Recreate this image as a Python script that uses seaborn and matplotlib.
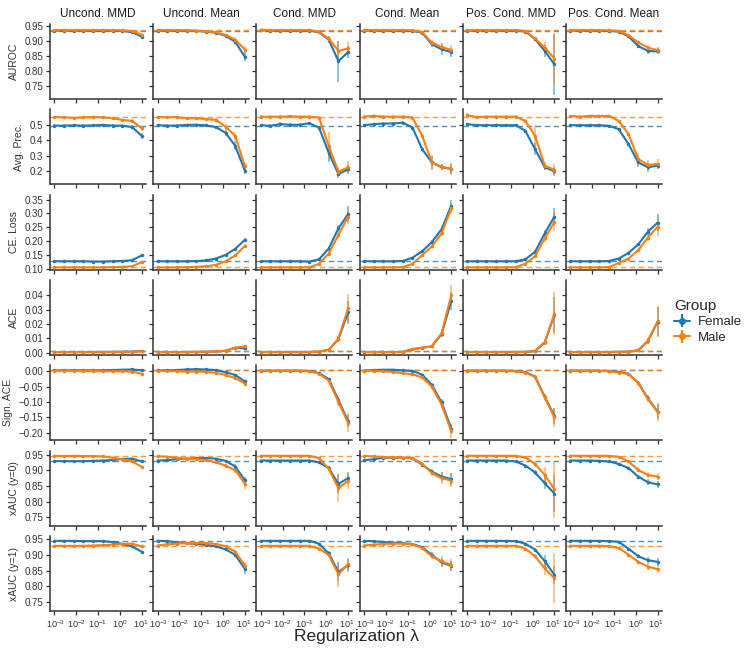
import numpy as np
import pandas as pd
import seaborn as sns
import matplotlib.pyplot as plt
from matplotlib.ticker import FuncFormatter, FixedLocator, NullLocator
from matplotlib.transforms import ScaledTranslation

LAMBDAS = [1e-3, 2.78e-3, 7.74e-3, 2.15e-2, 5.99e-2, 0.167, 0.464, 1.29, 3.59, 10.0]
METHODS = ["Uncond. MMD", "Uncond. Mean", "Cond. MMD", "Cond. Mean",
           "Pos. Cond. MMD", "Pos. Cond. Mean"]
METRICS = ["AUROC", "Avg. Prec.", "CE. Loss", "ACE", "Sign. ACE",
           "xAUC (y=0)", "xAUC (y=1)"]
GROUPS = ["Female", "Male"]
COLORS = {"Female": "#1f77b4", "Male": "#ff7f0e"}

# baseline (unregularized) values per metric: female, male
BASE_FEMALE = [0.935, 0.495, 0.127, 0.001, 0.003, 0.930, 0.945]
BASE_MALE = [0.937, 0.553, 0.105, 0.001, 0.003, 0.946, 0.929]

auroc_female = [
    [0.935, 0.935, 0.935, 0.935, 0.935, 0.935, 0.935, 0.934, 0.930, 0.915],
    [0.935, 0.935, 0.935, 0.935, 0.934, 0.932, 0.928, 0.918, 0.898, 0.848],
    [0.936, 0.935, 0.935, 0.935, 0.935, 0.935, 0.930, 0.905, 0.834, 0.864],
    [0.935, 0.935, 0.935, 0.935, 0.935, 0.934, 0.928, 0.890, 0.873, 0.864],
    [0.935, 0.935, 0.935, 0.935, 0.935, 0.935, 0.932, 0.907, 0.868, 0.823],
    [0.935, 0.935, 0.935, 0.935, 0.934, 0.932, 0.916, 0.884, 0.868, 0.866],
]
auroc_male = [
    [0.937, 0.937, 0.937, 0.937, 0.937, 0.937, 0.937, 0.936, 0.934, 0.921],
    [0.937, 0.937, 0.937, 0.936, 0.935, 0.933, 0.929, 0.921, 0.905, 0.872],
    [0.938, 0.937, 0.937, 0.937, 0.937, 0.937, 0.932, 0.908, 0.868, 0.876],
    [0.937, 0.937, 0.937, 0.937, 0.937, 0.936, 0.930, 0.895, 0.881, 0.871],
    [0.937, 0.937, 0.937, 0.937, 0.937, 0.937, 0.934, 0.909, 0.879, 0.842],
    [0.937, 0.937, 0.937, 0.937, 0.936, 0.934, 0.920, 0.896, 0.879, 0.870],
]
auroc_female_err = [
    [0.002, 0.002, 0.002, 0.002, 0.002, 0.002, 0.002, 0.002, 0.003, 0.005],
    [0.002, 0.002, 0.002, 0.002, 0.002, 0.002, 0.003, 0.004, 0.008, 0.015],
    [0.002, 0.002, 0.002, 0.002, 0.002, 0.002, 0.004, 0.012, 0.068, 0.020],
    [0.002, 0.002, 0.002, 0.002, 0.002, 0.002, 0.004, 0.010, 0.018, 0.015],
    [0.002, 0.002, 0.002, 0.002, 0.002, 0.002, 0.003, 0.006, 0.020, 0.100],
    [0.002, 0.002, 0.002, 0.002, 0.002, 0.002, 0.004, 0.008, 0.010, 0.010],
]
auroc_male_err = [
    [0.002, 0.002, 0.002, 0.002, 0.002, 0.002, 0.002, 0.002, 0.003, 0.005],
    [0.002, 0.002, 0.002, 0.002, 0.002, 0.002, 0.003, 0.004, 0.008, 0.012],
    [0.003, 0.002, 0.002, 0.002, 0.002, 0.002, 0.004, 0.010, 0.033, 0.023],
    [0.002, 0.002, 0.002, 0.002, 0.002, 0.002, 0.004, 0.008, 0.012, 0.015],
    [0.002, 0.002, 0.002, 0.002, 0.002, 0.002, 0.003, 0.006, 0.020, 0.085],
    [0.002, 0.002, 0.002, 0.002, 0.002, 0.002, 0.004, 0.006, 0.010, 0.010],
]

prec_female = [
    [0.497, 0.497, 0.499, 0.497, 0.499, 0.502, 0.498, 0.497, 0.488, 0.430],
    [0.500, 0.497, 0.498, 0.502, 0.503, 0.499, 0.488, 0.450, 0.365, 0.200],
    [0.500, 0.496, 0.507, 0.503, 0.503, 0.513, 0.485, 0.320, 0.180, 0.210],
    [0.500, 0.507, 0.511, 0.511, 0.517, 0.485, 0.343, 0.256, 0.224, 0.213],
    [0.507, 0.500, 0.500, 0.500, 0.500, 0.500, 0.463, 0.343, 0.224, 0.198],
    [0.500, 0.500, 0.500, 0.500, 0.496, 0.474, 0.376, 0.256, 0.224, 0.235],
]
prec_male = [
    [0.553, 0.552, 0.548, 0.552, 0.553, 0.552, 0.545, 0.535, 0.528, 0.480],
    [0.553, 0.552, 0.553, 0.545, 0.545, 0.540, 0.535, 0.490, 0.430, 0.230],
    [0.556, 0.556, 0.556, 0.558, 0.556, 0.556, 0.550, 0.365, 0.195, 0.224],
    [0.556, 0.561, 0.556, 0.556, 0.556, 0.550, 0.430, 0.256, 0.228, 0.215],
    [0.565, 0.554, 0.556, 0.556, 0.556, 0.556, 0.528, 0.430, 0.235, 0.207],
    [0.561, 0.556, 0.561, 0.561, 0.561, 0.528, 0.441, 0.278, 0.239, 0.246],
]
prec_female_err = [
    [0.008, 0.008, 0.008, 0.008, 0.008, 0.008, 0.008, 0.008, 0.012, 0.020],
    [0.008, 0.008, 0.008, 0.008, 0.008, 0.008, 0.010, 0.020, 0.030, 0.020],
    [0.010, 0.010, 0.012, 0.012, 0.010, 0.010, 0.012, 0.060, 0.025, 0.030],
    [0.010, 0.010, 0.010, 0.010, 0.010, 0.010, 0.015, 0.040, 0.020, 0.030],
    [0.008, 0.008, 0.008, 0.008, 0.008, 0.008, 0.015, 0.040, 0.020, 0.025],
    [0.008, 0.008, 0.008, 0.008, 0.008, 0.008, 0.015, 0.030, 0.030, 0.020],
]
prec_male_err = [
    [0.008, 0.008, 0.008, 0.008, 0.008, 0.008, 0.008, 0.008, 0.010, 0.015],
    [0.008, 0.008, 0.008, 0.008, 0.008, 0.008, 0.010, 0.020, 0.025, 0.025],
    [0.010, 0.010, 0.010, 0.010, 0.010, 0.010, 0.012, 0.090, 0.030, 0.040],
    [0.010, 0.010, 0.010, 0.010, 0.010, 0.010, 0.015, 0.050, 0.020, 0.040],
    [0.012, 0.008, 0.008, 0.008, 0.008, 0.008, 0.015, 0.070, 0.025, 0.040],
    [0.008, 0.008, 0.008, 0.008, 0.008, 0.008, 0.015, 0.040, 0.030, 0.030],
]

ce_female = [
    [0.127, 0.127, 0.127, 0.127, 0.126, 0.126, 0.127, 0.128, 0.131, 0.148],
    [0.127, 0.127, 0.127, 0.127, 0.128, 0.130, 0.137, 0.150, 0.172, 0.205],
    [0.127, 0.127, 0.127, 0.127, 0.127, 0.126, 0.134, 0.173, 0.246, 0.298],
    [0.127, 0.127, 0.127, 0.127, 0.128, 0.140, 0.163, 0.197, 0.243, 0.328],
    [0.127, 0.127, 0.127, 0.127, 0.127, 0.127, 0.134, 0.161, 0.228, 0.289],
    [0.127, 0.127, 0.127, 0.127, 0.128, 0.137, 0.157, 0.188, 0.234, 0.267],
]
ce_male = [
    [0.105, 0.105, 0.105, 0.105, 0.105, 0.105, 0.106, 0.107, 0.109, 0.124],
    [0.105, 0.105, 0.105, 0.106, 0.107, 0.109, 0.114, 0.127, 0.148, 0.183],
    [0.105, 0.105, 0.105, 0.105, 0.105, 0.105, 0.118, 0.155, 0.222, 0.289],
    [0.105, 0.105, 0.105, 0.105, 0.106, 0.118, 0.149, 0.181, 0.228, 0.319],
    [0.105, 0.105, 0.105, 0.105, 0.105, 0.106, 0.118, 0.145, 0.210, 0.270],
    [0.105, 0.105, 0.105, 0.105, 0.106, 0.121, 0.137, 0.167, 0.213, 0.252],
]
ce_female_err = [
    [0.002, 0.002, 0.002, 0.002, 0.002, 0.002, 0.002, 0.002, 0.002, 0.003],
    [0.002, 0.002, 0.002, 0.002, 0.002, 0.002, 0.002, 0.003, 0.004, 0.005],
    [0.002, 0.002, 0.002, 0.002, 0.002, 0.002, 0.003, 0.005, 0.012, 0.030],
    [0.002, 0.002, 0.002, 0.002, 0.002, 0.002, 0.003, 0.006, 0.010, 0.020],
    [0.002, 0.002, 0.002, 0.002, 0.002, 0.002, 0.003, 0.006, 0.012, 0.030],
    [0.002, 0.002, 0.002, 0.002, 0.002, 0.002, 0.003, 0.006, 0.012, 0.030],
]
ce_male_err = [
    [0.002, 0.002, 0.002, 0.002, 0.002, 0.002, 0.002, 0.002, 0.002, 0.003],
    [0.002, 0.002, 0.002, 0.002, 0.002, 0.002, 0.002, 0.003, 0.004, 0.005],
    [0.002, 0.002, 0.002, 0.002, 0.002, 0.002, 0.003, 0.005, 0.012, 0.028],
    [0.002, 0.002, 0.002, 0.002, 0.002, 0.002, 0.003, 0.006, 0.010, 0.020],
    [0.002, 0.002, 0.002, 0.002, 0.002, 0.002, 0.003, 0.006, 0.012, 0.035],
    [0.002, 0.002, 0.002, 0.002, 0.002, 0.002, 0.003, 0.006, 0.012, 0.035],
]

ace_female = [
    [0.0005, 0.0005, 0.0005, 0.0005, 0.0005, 0.0005, 0.0006, 0.0007, 0.0008, 0.0012],
    [0.0005, 0.0005, 0.0005, 0.0005, 0.0006, 0.0007, 0.0009, 0.0013, 0.0035, 0.0030],
    [0.0005, 0.0005, 0.0005, 0.0005, 0.0005, 0.0005, 0.0008, 0.0020, 0.0095, 0.0280],
    [0.0005, 0.0005, 0.0005, 0.0005, 0.0006, 0.0025, 0.0035, 0.0045, 0.0130, 0.0360],
    [0.0005, 0.0005, 0.0005, 0.0005, 0.0005, 0.0005, 0.0006, 0.0012, 0.0072, 0.0265],
    [0.0005, 0.0005, 0.0005, 0.0005, 0.0005, 0.0006, 0.0008, 0.0017, 0.0082, 0.0215],
]
ace_male = [
    [0.0005, 0.0005, 0.0005, 0.0005, 0.0005, 0.0005, 0.0005, 0.0006, 0.0007, 0.0009],
    [0.0005, 0.0005, 0.0005, 0.0005, 0.0006, 0.0007, 0.0010, 0.0015, 0.0035, 0.0045],
    [0.0005, 0.0005, 0.0005, 0.0005, 0.0005, 0.0005, 0.0008, 0.0021, 0.0098, 0.0310],
    [0.0005, 0.0005, 0.0005, 0.0005, 0.0006, 0.0024, 0.0034, 0.0045, 0.0135, 0.0400],
    [0.0005, 0.0005, 0.0005, 0.0005, 0.0005, 0.0005, 0.0006, 0.0012, 0.0074, 0.0270],
    [0.0005, 0.0005, 0.0005, 0.0005, 0.0005, 0.0006, 0.0008, 0.0017, 0.0084, 0.0218],
]
ace_female_err = [
    [0.0003, 0.0003, 0.0003, 0.0003, 0.0003, 0.0003, 0.0003, 0.0003, 0.0003, 0.0004],
    [0.0003, 0.0003, 0.0003, 0.0003, 0.0003, 0.0003, 0.0003, 0.0004, 0.0006, 0.0008],
    [0.0003, 0.0003, 0.0003, 0.0003, 0.0003, 0.0003, 0.0004, 0.0008, 0.0020, 0.0080],
    [0.0003, 0.0003, 0.0003, 0.0003, 0.0003, 0.0004, 0.0005, 0.0008, 0.0020, 0.0060],
    [0.0003, 0.0003, 0.0003, 0.0003, 0.0003, 0.0003, 0.0003, 0.0005, 0.0020, 0.0120],
    [0.0003, 0.0003, 0.0003, 0.0003, 0.0003, 0.0003, 0.0003, 0.0005, 0.0020, 0.0100],
]
ace_male_err = [
    [0.0003, 0.0003, 0.0003, 0.0003, 0.0003, 0.0003, 0.0003, 0.0003, 0.0003, 0.0004],
    [0.0003, 0.0003, 0.0003, 0.0003, 0.0003, 0.0003, 0.0003, 0.0004, 0.0006, 0.0008],
    [0.0003, 0.0003, 0.0003, 0.0003, 0.0003, 0.0003, 0.0004, 0.0008, 0.0020, 0.0100],
    [0.0003, 0.0003, 0.0003, 0.0003, 0.0003, 0.0004, 0.0005, 0.0008, 0.0020, 0.0070],
    [0.0003, 0.0003, 0.0003, 0.0003, 0.0003, 0.0003, 0.0003, 0.0005, 0.0020, 0.0150],
    [0.0003, 0.0003, 0.0003, 0.0003, 0.0003, 0.0003, 0.0003, 0.0005, 0.0020, 0.0110],
]

sace_female = [
    [0.003, 0.003, 0.003, 0.003, 0.003, 0.003, 0.004, 0.005, 0.006, 0.003],
    [0.003, 0.003, 0.004, 0.006, 0.007, 0.006, 0.004, -0.003, -0.012, -0.033],
    [0.002, 0.002, 0.002, 0.002, 0.002, 0.001, -0.006, -0.025, -0.093, -0.162],
    [0.002, 0.004, 0.005, 0.005, 0.003, 0.001, -0.011, -0.044, -0.101, -0.186],
    [0.002, 0.002, 0.002, 0.002, 0.002, 0.001, -0.003, -0.017, -0.083, -0.145],
    [0.002, 0.002, 0.002, 0.002, 0.001, -0.002, -0.008, -0.037, -0.088, -0.131],
]
sace_male = [
    [0.002, 0.002, 0.002, 0.001, 0.001, 0.000, 0.000, 0.000, -0.001, -0.008],
    [0.002, 0.001, 0.000, -0.001, -0.001, -0.002, -0.005, -0.012, -0.022, -0.040],
    [0.002, 0.002, 0.002, 0.002, 0.001, 0.000, -0.008, -0.030, -0.100, -0.167],
    [0.002, 0.001, 0.000, -0.002, -0.006, -0.010, -0.020, -0.050, -0.108, -0.195],
    [0.002, 0.002, 0.002, 0.002, 0.001, 0.000, -0.004, -0.018, -0.085, -0.150],
    [0.002, 0.002, 0.002, 0.001, 0.000, -0.004, -0.009, -0.038, -0.090, -0.133],
]
sace_female_err = [
    [0.002, 0.002, 0.002, 0.002, 0.002, 0.002, 0.002, 0.002, 0.002, 0.003],
    [0.002, 0.002, 0.002, 0.002, 0.002, 0.002, 0.002, 0.002, 0.003, 0.005],
    [0.002, 0.002, 0.002, 0.002, 0.002, 0.002, 0.002, 0.004, 0.010, 0.020],
    [0.002, 0.002, 0.002, 0.002, 0.002, 0.002, 0.002, 0.006, 0.010, 0.015],
    [0.002, 0.002, 0.002, 0.002, 0.002, 0.002, 0.002, 0.004, 0.010, 0.025],
    [0.002, 0.002, 0.002, 0.002, 0.002, 0.002, 0.002, 0.004, 0.010, 0.025],
]
sace_male_err = [
    [0.002, 0.002, 0.002, 0.002, 0.002, 0.002, 0.002, 0.002, 0.002, 0.003],
    [0.002, 0.002, 0.002, 0.002, 0.002, 0.002, 0.002, 0.002, 0.003, 0.006],
    [0.002, 0.002, 0.002, 0.002, 0.002, 0.002, 0.002, 0.004, 0.012, 0.030],
    [0.002, 0.002, 0.002, 0.002, 0.002, 0.002, 0.002, 0.006, 0.012, 0.020],
    [0.002, 0.002, 0.002, 0.002, 0.002, 0.002, 0.002, 0.004, 0.012, 0.030],
    [0.002, 0.002, 0.002, 0.002, 0.002, 0.002, 0.002, 0.004, 0.010, 0.030],
]

xauc0_female = [
    [0.929, 0.929, 0.929, 0.929, 0.930, 0.931, 0.933, 0.936, 0.937, 0.928],
    [0.931, 0.932, 0.936, 0.937, 0.938, 0.939, 0.937, 0.930, 0.912, 0.868],
    [0.931, 0.931, 0.931, 0.931, 0.931, 0.931, 0.925, 0.907, 0.857, 0.875],
    [0.932, 0.935, 0.940, 0.940, 0.940, 0.938, 0.918, 0.896, 0.880, 0.872],
    [0.931, 0.931, 0.931, 0.931, 0.931, 0.928, 0.915, 0.893, 0.859, 0.826],
    [0.931, 0.931, 0.931, 0.930, 0.928, 0.920, 0.907, 0.880, 0.862, 0.855],
]
xauc0_male = [
    [0.946, 0.945, 0.946, 0.945, 0.945, 0.944, 0.940, 0.935, 0.928, 0.911],
    [0.945, 0.943, 0.940, 0.936, 0.935, 0.933, 0.925, 0.915, 0.900, 0.857],
    [0.946, 0.946, 0.946, 0.946, 0.946, 0.946, 0.939, 0.905, 0.843, 0.867],
    [0.946, 0.944, 0.942, 0.941, 0.940, 0.938, 0.921, 0.891, 0.875, 0.867],
    [0.946, 0.946, 0.946, 0.946, 0.946, 0.946, 0.941, 0.920, 0.885, 0.839],
    [0.946, 0.946, 0.946, 0.946, 0.946, 0.943, 0.928, 0.901, 0.885, 0.880],
]
xauc0_female_err = [
    [0.002, 0.002, 0.002, 0.002, 0.002, 0.002, 0.002, 0.002, 0.003, 0.004],
    [0.002, 0.002, 0.002, 0.002, 0.002, 0.002, 0.003, 0.004, 0.008, 0.010],
    [0.002, 0.002, 0.002, 0.002, 0.002, 0.002, 0.003, 0.006, 0.030, 0.020],
    [0.002, 0.002, 0.002, 0.002, 0.002, 0.002, 0.003, 0.008, 0.015, 0.020],
    [0.002, 0.002, 0.002, 0.002, 0.002, 0.002, 0.003, 0.008, 0.020, 0.060],
    [0.002, 0.002, 0.002, 0.002, 0.002, 0.002, 0.003, 0.006, 0.010, 0.012],
]
xauc0_male_err = [
    [0.002, 0.002, 0.002, 0.002, 0.002, 0.002, 0.002, 0.002, 0.003, 0.004],
    [0.002, 0.002, 0.002, 0.002, 0.002, 0.002, 0.003, 0.004, 0.008, 0.015],
    [0.002, 0.002, 0.002, 0.002, 0.002, 0.002, 0.003, 0.008, 0.045, 0.025],
    [0.002, 0.002, 0.002, 0.002, 0.002, 0.002, 0.003, 0.010, 0.018, 0.020],
    [0.002, 0.002, 0.002, 0.002, 0.002, 0.002, 0.003, 0.010, 0.025, 0.090],
    [0.002, 0.002, 0.002, 0.002, 0.002, 0.002, 0.003, 0.008, 0.010, 0.012],
]

xauc1_female = [
    [0.945, 0.945, 0.945, 0.944, 0.944, 0.944, 0.941, 0.935, 0.927, 0.910],
    [0.945, 0.944, 0.940, 0.937, 0.935, 0.932, 0.927, 0.918, 0.900, 0.855],
    [0.945, 0.945, 0.945, 0.945, 0.945, 0.945, 0.936, 0.905, 0.846, 0.867],
    [0.945, 0.944, 0.941, 0.939, 0.937, 0.935, 0.925, 0.900, 0.876, 0.865],
    [0.945, 0.945, 0.945, 0.945, 0.945, 0.944, 0.936, 0.917, 0.880, 0.836],
    [0.945, 0.945, 0.945, 0.945, 0.944, 0.942, 0.920, 0.896, 0.883, 0.878],
]
xauc1_male = [
    [0.929, 0.929, 0.929, 0.929, 0.930, 0.931, 0.933, 0.935, 0.936, 0.927],
    [0.930, 0.934, 0.936, 0.938, 0.938, 0.938, 0.935, 0.928, 0.910, 0.866],
    [0.929, 0.929, 0.929, 0.929, 0.929, 0.929, 0.920, 0.900, 0.838, 0.871],
    [0.930, 0.933, 0.935, 0.936, 0.936, 0.934, 0.922, 0.895, 0.880, 0.868],
    [0.929, 0.929, 0.929, 0.929, 0.929, 0.929, 0.920, 0.896, 0.857, 0.825],
    [0.929, 0.929, 0.929, 0.929, 0.928, 0.922, 0.901, 0.878, 0.863, 0.854],
]
xauc1_female_err = [
    [0.002, 0.002, 0.002, 0.002, 0.002, 0.002, 0.002, 0.002, 0.003, 0.004],
    [0.002, 0.002, 0.002, 0.002, 0.002, 0.002, 0.003, 0.004, 0.008, 0.015],
    [0.002, 0.002, 0.002, 0.002, 0.002, 0.002, 0.003, 0.006, 0.030, 0.020],
    [0.002, 0.002, 0.002, 0.002, 0.002, 0.002, 0.003, 0.008, 0.015, 0.015],
    [0.002, 0.002, 0.002, 0.002, 0.002, 0.002, 0.003, 0.006, 0.020, 0.030],
    [0.002, 0.002, 0.002, 0.002, 0.002, 0.002, 0.003, 0.006, 0.010, 0.012],
]
xauc1_male_err = [
    [0.002, 0.002, 0.002, 0.002, 0.002, 0.002, 0.002, 0.002, 0.003, 0.004],
    [0.002, 0.002, 0.002, 0.002, 0.002, 0.002, 0.003, 0.004, 0.008, 0.012],
    [0.002, 0.002, 0.002, 0.002, 0.002, 0.002, 0.003, 0.008, 0.040, 0.020],
    [0.002, 0.002, 0.002, 0.002, 0.002, 0.002, 0.003, 0.008, 0.018, 0.018],
    [0.002, 0.002, 0.002, 0.002, 0.002, 0.002, 0.003, 0.006, 0.020, 0.080],
    [0.002, 0.002, 0.002, 0.002, 0.002, 0.002, 0.003, 0.006, 0.010, 0.012],
]

ROW_DATA = [
    (auroc_female, auroc_male, auroc_female_err, auroc_male_err),
    (prec_female, prec_male, prec_female_err, prec_male_err),
    (ce_female, ce_male, ce_female_err, ce_male_err),
    (ace_female, ace_male, ace_female_err, ace_male_err),
    (sace_female, sace_male, sace_female_err, sace_male_err),
    (xauc0_female, xauc0_male, xauc0_female_err, xauc0_male_err),
    (xauc1_female, xauc1_male, xauc1_female_err, xauc1_male_err),
]
ROW_YLIM = [(0.709, 0.957), (0.113, 0.604), (0.097, 0.368), (-0.0015, 0.0505),
            (-0.224, 0.019), (0.724, 0.962), (0.721, 0.960)]
ROW_YTICKS = [
    [0.75, 0.80, 0.85, 0.90, 0.95],
    [0.2, 0.3, 0.4, 0.5],
    [0.10, 0.15, 0.20, 0.25, 0.30, 0.35],
    [0.00, 0.01, 0.02, 0.03, 0.04],
    [-0.20, -0.15, -0.10, -0.05, 0.00],
    [0.75, 0.80, 0.85, 0.90, 0.95],
    [0.75, 0.80, 0.85, 0.90, 0.95],
]
ROW_FMT = ["{:.2f}", "{:.1f}", "{:.2f}", "{:.2f}", "{:.2f}", "{:.2f}", "{:.2f}"]

sns.set_style("ticks")
plt.rcParams["font.family"] = ["Liberation Sans", "DejaVu Sans"]
plt.rcParams["mathtext.fontset"] = "custom"
plt.rcParams["mathtext.rm"] = "Liberation Sans"
plt.rcParams["mathtext.it"] = "Liberation Sans:italic"

AX_COLOR = "#333333"

fig, axes = plt.subplots(7, 6, figsize=(7.47, 6.54), dpi=100, sharex=True, sharey="row")
fig.subplots_adjust(left=50 / 747, right=662 / 747, top=1 - 24 / 654,
                    bottom=1 - 611 / 654, wspace=0.073, hspace=0.14)

for r, metric in enumerate(METRICS):
    fem, mal, fem_err, mal_err = ROW_DATA[r]
    for c, method in enumerate(METHODS):
        ax = axes[r, c]
        df = pd.DataFrame({
            "lam": LAMBDAS * 2,
            "value": fem[c] + mal[c],
            "err": fem_err[c] + mal_err[c],
            "Group": ["Female"] * len(LAMBDAS) + ["Male"] * len(LAMBDAS),
        })
        ax.axhline(BASE_FEMALE[r], color=COLORS["Female"], ls=(0, (4, 2.5)), lw=1.0, alpha=0.8, zorder=1)
        ax.axhline(BASE_MALE[r], color=COLORS["Male"], ls=(0, (4, 2.5)), lw=1.0, alpha=0.8, zorder=1)
        for g in GROUPS:
            sub = df[df["Group"] == g]
            ax.errorbar(sub["lam"], sub["value"], yerr=sub["err"], fmt="none",
                        ecolor=COLORS[g], elinewidth=1.2, alpha=0.55, zorder=2)
        sns.lineplot(data=df, x="lam", y="value", hue="Group", palette=COLORS,
                     hue_order=GROUPS, marker="o", markersize=2.5, markeredgewidth=0,
                     linewidth=1.5, errorbar=None, legend=False, ax=ax, zorder=3)
        ax.set_xscale("log")
        ax.set_xlim(10 ** -3.2, 10 ** 1.2)
        ax.xaxis.set_major_locator(FixedLocator([1e-3, 1e-2, 1e-1, 1, 10]))
        ax.xaxis.set_minor_locator(NullLocator())
        ax.set_ylim(*ROW_YLIM[r])
        ax.yaxis.set_major_locator(FixedLocator(ROW_YTICKS[r]))
        fmt = ROW_FMT[r]
        ax.yaxis.set_major_formatter(FuncFormatter(lambda v, p, f=fmt: f.format(v).replace("-", "\u2212")))
        ax.set_xlabel("")
        ax.set_ylabel(metric if c == 0 else "", fontsize=7.5, color=AX_COLOR, labelpad=4)
        if r == 0:
            ax.set_title(method, fontsize=8.5, pad=5, color="#1a1a1a")
        sns.despine(ax=ax)
        for s in ["left", "bottom"]:
            ax.spines[s].set_color(AX_COLOR)
            ax.spines[s].set_linewidth(1.1)
        ax.tick_params(axis="both", which="major", direction="out", length=3, width=0.9,
                       color=AX_COLOR, labelcolor=AX_COLOR, labelsize=7, pad=2)
        ax.tick_params(axis="x", labelsize=6.6)

# nudge the outermost x labels a little inward so neighbouring panels don't collide
fig.canvas.draw()
for ax in axes[-1, :]:
    labels = ax.get_xticklabels()
    labels[0].set_transform(labels[0].get_transform() + ScaledTranslation(1.5 / 100, 0, fig.dpi_scale_trans))
    labels[-1].set_transform(labels[-1].get_transform() + ScaledTranslation(-1.5 / 100, 0, fig.dpi_scale_trans))

# legend proxies
handles = []
for g in GROUPS:
    h = axes[0, 0].errorbar([np.nan], [np.nan], yerr=[np.nan], fmt="-o", color=COLORS[g],
                            markersize=4, lw=1.5, elinewidth=1.5)
    handles.append(h)
leg = fig.legend(handles, GROUPS, title="Group", loc="upper left",
                 bbox_to_anchor=(662 / 747, 1 - 287 / 654), frameon=False,
                 fontsize=9.5, title_fontsize=11, handlelength=1.2, handletextpad=0.6,
                 labelspacing=0.25)
leg._legend_box.align = "left"

fig.text(356 / 747, 1 - 637 / 654, "Regularization λ", ha="center", va="center", fontsize=12.5)

fig.savefig("out.png", dpi=100)
